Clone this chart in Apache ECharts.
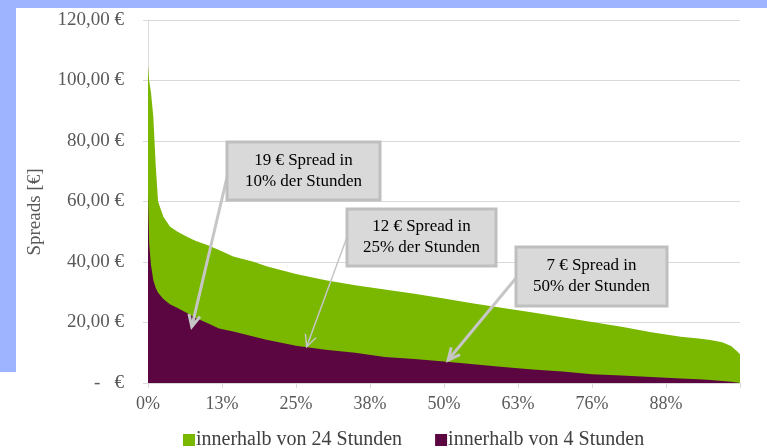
<!DOCTYPE html>
<html>
<head>
<meta charset="utf-8">
<script src="https://cdn.jsdelivr.net/npm/echarts@6/dist/echarts.min.js"></script>
<style>
  html, body { margin: 0; padding: 0; background: #fff; }
  #chart { width: 767px; height: 448px; }
</style>
</head>
<body>
<div id="chart"></div>
<script>
// share of hours (%), sorted duration curve
const xPct = [0, 0.2, 0.5, 0.9, 1.3, 1.7, 2.6, 3.7, 5, 6.5, 8, 10, 12, 14.4, 17.8, 20, 25, 30, 35, 40, 45, 50, 55, 60, 65, 70, 75, 80, 85, 90, 93, 95, 97, 98.5, 99.5, 100];
const spread24h = [105, 100, 96, 88, 72, 60, 55, 51.7, 50, 48.4, 47, 45.6, 44, 41.8, 40.1, 38.6, 36, 34, 32.3, 30.9, 29.5, 27.9, 26.3, 24.8, 23.3, 21.7, 20.2, 18.6, 16.8, 15.3, 14.7, 14.2, 13.5, 12.2, 10.5, 9.5];
const spread4h = [62, 46, 39, 34, 31.5, 29.8, 27.8, 26, 24.8, 23.2, 21.6, 19.8, 18, 17, 15.4, 14.3, 12.3, 11.0, 10.0, 8.6, 7.9, 7.1, 6.2, 5.3, 4.5, 3.8, 2.9, 2.5, 2.0, 1.5, 1.2, 1.0, 0.7, 0.4, 0.2, 0.1];
const xTickLabels = ['0%', '13%', '25%', '38%', '50%', '63%', '76%', '88%', ''];
const seriesNames = ['innerhalb von 24 Stunden', 'innerhalb von 4 Stunden'];

// annotations: text, arrow tip [pct, €]
const annoText = ['19 € Spread in\n10% der Stunden', '12 € Spread in\n25% der Stunden', '7 € Spread in\n50% der Stunden'];
const annoTip = [[7.4, 18.6], [26.8, 12.0], [50.7, 7.6]];
const annoBox = [[227, 142, 153, 58], [347, 209, 149, 57], [516, 247, 151, 59]];
const annoStart = [[228, 173], [347, 237], [516, 278]];
const annoWidth = [3, 1.5, 3];

const FONT = '"Liberation Serif", "DejaVu Serif", serif';
const chart = echarts.init(document.getElementById('chart'));

const pairs = (ys) => xPct.map((x, i) => [x, ys[i]]);

chart.setOption({
  animation: false,
  grid: { left: 148, right: 27, top: 20, bottom: 65 },
  legend: {
    left: 178, top: 425,
    icon: 'rect', itemWidth: 12, itemHeight: 12, itemGap: 33,
    textStyle: { fontFamily: FONT, fontSize: 20, color: '#404040', padding: [0, 0, 0, -4] },
    data: seriesNames
  },
  xAxis: {
    type: 'value', min: 0, max: 100, interval: 12.5,
    axisLine: { lineStyle: { color: '#d9d9d9' } },
    axisTick: { show: true, length: 5, lineStyle: { color: '#d9d9d9' } },
    splitLine: { show: false },
    axisLabel: {
      fontFamily: FONT, fontSize: 18, color: '#595959', margin: 12,
      formatter: (v) => xTickLabels[Math.round(v / 12.5)]
    }
  },
  yAxis: {
    type: 'value', min: 0, max: 120, interval: 20,
    axisLine: { show: true, lineStyle: { color: '#d9d9d9' } },
    axisTick: { show: true, length: 5, lineStyle: { color: '#d9d9d9' } },
    splitLine: { lineStyle: { color: '#d9d9d9' } },
    axisLabel: {
      fontFamily: FONT, fontSize: 19, color: '#595959', margin: 24,
      formatter: (v) => v === 0 ? '-   €' : v.toFixed(2).replace('.', ',') + ' €'
    }
  },
  series: [
    {
      name: seriesNames[0], type: 'line', data: pairs(spread24h),
      showSymbol: false, lineStyle: { width: 0 }, color: '#7ab800',
      areaStyle: { color: '#7ab800', opacity: 1 }, z: 2
    },
    {
      name: seriesNames[1], type: 'line', data: pairs(spread4h),
      showSymbol: false, lineStyle: { width: 0 }, color: '#5c0641',
      areaStyle: { color: '#5c0641', opacity: 1 }, z: 3
    }
  ]
});

// frame, axis title, annotation boxes with arrows
const gfx = [
  { type: 'rect', shape: { x: 0, y: 0, width: 767, height: 8 }, style: { fill: '#9fb4ff' }, z: 0 },
  { type: 'rect', shape: { x: 0, y: 0, width: 16, height: 372 }, style: { fill: '#9fb4ff' }, z: 0 },
  {
    type: 'text', x: 35, y: 212, rotation: Math.PI / 2,
    style: { text: 'Spreads [€]', fontFamily: FONT, fontSize: 19, fill: '#595959', align: 'center', verticalAlign: 'middle' }
  }
];
annoText.forEach((t, i) => {
  const [bx, by, bw, bh] = annoBox[i];
  const [sx, sy] = annoStart[i];
  const [tx, ty] = chart.convertToPixel({ gridIndex: 0 }, annoTip[i]);
  const ang = Math.atan2(ty - sy, tx - sx);
  const hl = 13, ha = 0.45;
  const lw = annoWidth[i];
  const stroke = { stroke: '#c6c6c6', lineWidth: lw, fill: null };
  gfx.push({ type: 'line', shape: { x1: sx, y1: sy, x2: tx, y2: ty }, style: stroke, z: 100 });
  gfx.push({
    type: 'polyline', z: 100, style: stroke,
    shape: { points: [
      [tx - hl * Math.cos(ang - ha), ty - hl * Math.sin(ang - ha)],
      [tx, ty],
      [tx - hl * Math.cos(ang + ha), ty - hl * Math.sin(ang + ha)]
    ] }
  });
  gfx.push({
    type: 'rect', z: 101,
    shape: { x: bx, y: by, width: bw, height: bh },
    style: { fill: '#d9d9d9', stroke: '#bfbfbf', lineWidth: 3 }
  });
  gfx.push({
    type: 'text', z: 102, x: bx + bw / 2, y: by + bh / 2,
    style: { text: t, fontFamily: FONT, fontSize: 17, fill: '#000', align: 'center', verticalAlign: 'middle', lineHeight: 21 }
  });
});
chart.setOption({ graphic: gfx });
</script>
</body>
</html>
